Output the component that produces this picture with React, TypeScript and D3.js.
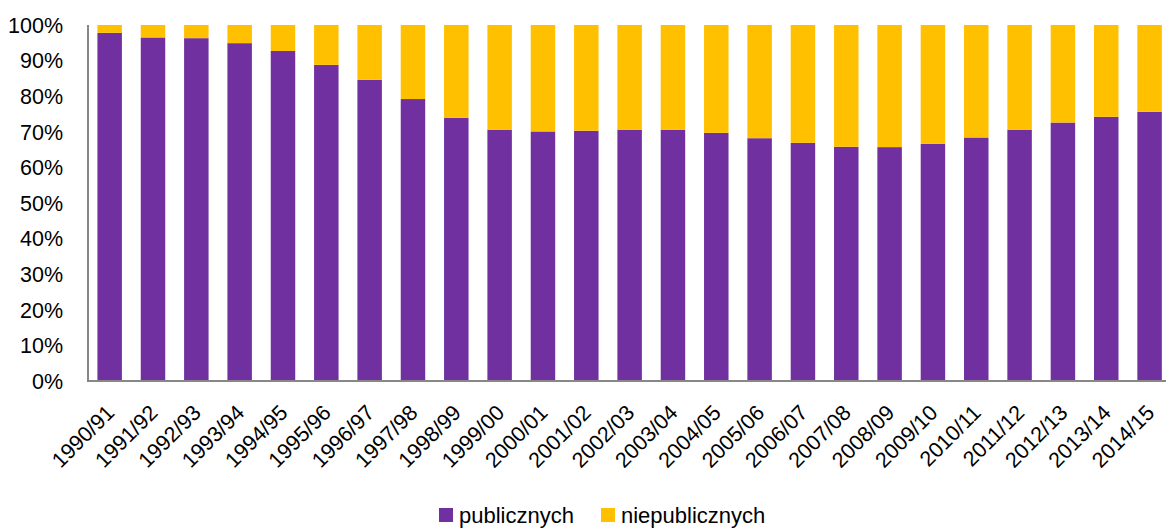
import React from "react";
import * as d3 from "d3";

const years = [
  "1990/91", "1991/92", "1992/93", "1993/94", "1994/95", "1995/96", "1996/97",
  "1997/98", "1998/99", "1999/00", "2000/01", "2001/02", "2002/03", "2003/04",
  "2004/05", "2005/06", "2006/07", "2007/08", "2008/09", "2009/10", "2010/11",
  "2011/12", "2012/13", "2013/14", "2014/15",
];
const publicznych = [
  97.8, 96.5, 96.3, 94.9, 92.7, 88.8, 84.6, 79.2, 73.9, 70.6, 70.1, 70.3, 70.6,
  70.6, 69.7, 68.2, 66.9, 65.8, 65.7, 66.6, 68.4, 70.6, 72.6, 74.2, 75.6,
];
const niepublicznych = [
  2.2, 3.5, 3.7, 5.1, 7.3, 11.2, 15.4, 20.8, 26.1, 29.4, 29.9, 29.7, 29.4,
  29.4, 30.3, 31.8, 33.1, 34.2, 34.3, 33.4, 31.6, 29.4, 27.4, 25.8, 24.4,
];
const yTicks = [0, 10, 20, 30, 40, 50, 60, 70, 80, 90, 100];
const seriesNames = ["publicznych", "niepublicznych"];
const colors = ["#7030A0", "#FFC000"];

export default function App() {
  const W = 1166;
  const H = 528;
  const left = 88;
  const top = 25;
  const bottom = 381;
  const font = "'Liberation Sans', Arial, sans-serif";

  const rows = years.map((y, i) => ({
    year: y,
    publicznych: publicznych[i],
    niepublicznych: niepublicznych[i],
  }));
  const stacked = d3
    .stack<any>()
    .keys(seriesNames)
    .offset(d3.stackOffsetExpand)(rows);

  const x = d3
    .scaleBand<string>()
    .domain(years)
    .range([left, left + 43.33 * years.length])
    .paddingInner(0.435)
    .paddingOuter(0.2175);
  const y = d3.scaleLinear().domain([0, 1]).range([bottom, top]);

  return (
    <svg
      width={W}
      height={H}
      style={{ position: "absolute", left: 0, top: 0, background: "#fff" }}
      fontFamily={font}
    >
      {stacked.map((s, si) => (
        <g key={s.key} fill={colors[si]}>
          {s.map((d, i) => (
            <rect
              key={i}
              x={x(years[i])!}
              y={y(d[1])}
              width={x.bandwidth()}
              height={y(d[0]) - y(d[1])}
            />
          ))}
        </g>
      ))}

      <line x1={left} x2={left} y1={top} y2={bottom + 1} stroke="#878787" strokeWidth={2} />
      <line x1={left - 1} x2={W} y1={bottom} y2={bottom} stroke="#878787" strokeWidth={2} />

      {yTicks.map((t) => (
        <text
          key={t}
          x={63}
          y={y(t / 100)}
          dy="0.36em"
          textAnchor="end"
          fontSize={21.5}
          fill="#000"
        >
          {t}%
        </text>
      ))}

      {years.map((yr) => {
        const cx = x(yr)! + x.bandwidth() / 2;
        return (
          <text
            key={yr}
            transform={`translate(${cx + 6},${bottom + 33}) rotate(-45)`}
            textAnchor="end"
            fontSize={21.5}
            fill="#000"
          >
            {yr}
          </text>
        );
      })}

      {seriesNames.map((n, i) => {
        const lx = i === 0 ? 439 : 601;
        return (
          <g key={n}>
            <rect x={lx} y={508} width={14} height={14} fill={colors[i]} />
            <text x={lx + 20} y={523} fontSize={22} fill="#000">
              {n}
            </text>
          </g>
        );
      })}
    </svg>
  );
}
